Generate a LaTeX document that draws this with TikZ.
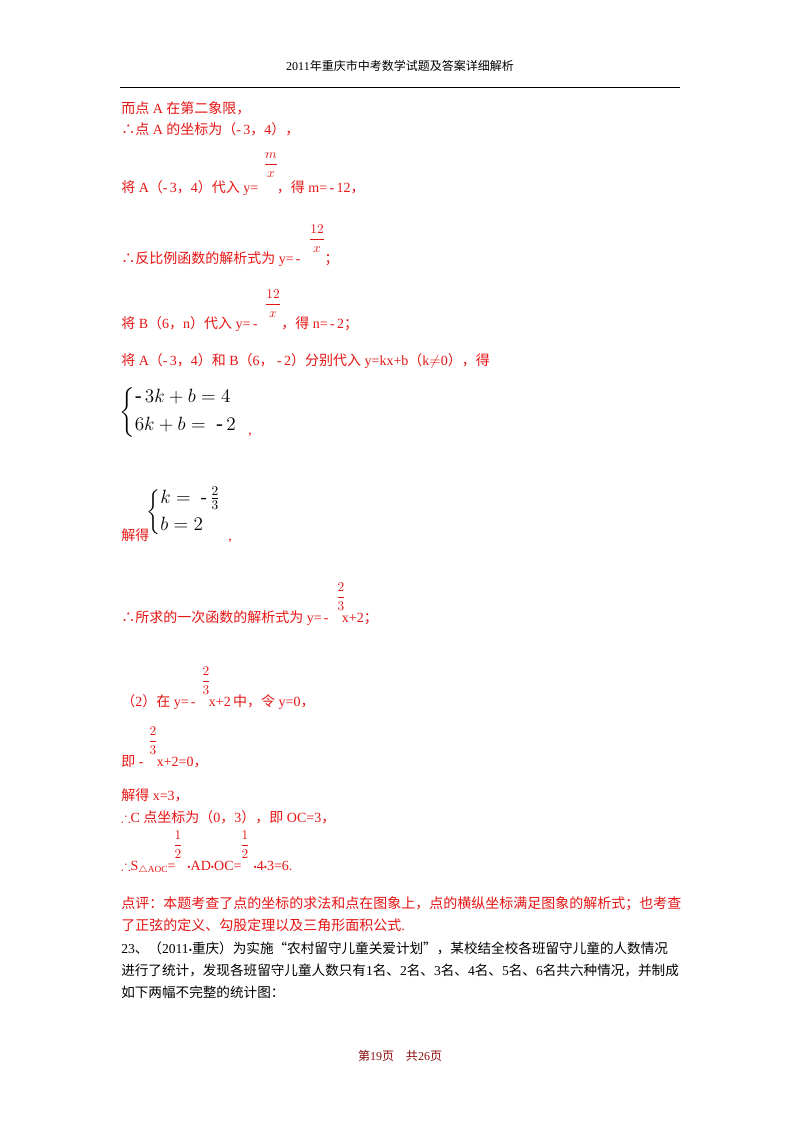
\documentclass[tikz,border=0pt]{standalone}
\usepackage{amsmath,amssymb}
\usepackage{fontspec}
\setmainfont{Liberation Serif}
\newfontfamily\cjk{Noto Sans CJK SC}
\newcommand\zh[1]{{\cjk #1}}
\newcommand\bul{{\scriptsize\textbullet}}
\definecolor{rd}{RGB}{230,20,20}
\begin{document}
\begin{tikzpicture}[x=0.75pt,y=-0.75pt,
  ln/.style={anchor=base west,inner sep=0pt,font=\fontsize{10.5}{12}\selectfont},
  red/.style={text=rd},
  fr/.style={anchor=base,inner sep=0pt,font=\fontsize{10}{11}\selectfont,text=rd},
  sys/.style={anchor=west,inner sep=0pt,font=\fontsize{15.5}{18}\selectfont}]
\useasboundingbox (0,0) rectangle (800,1132);
\fill[white] (0,0) rectangle (800,1132);
\node[anchor=base,inner sep=0pt,font=\fontsize{9}{11}\selectfont] (hd) at (400,70) {2011\zh{年重庆市中考数学试题及答案详细解析}};
\coordinate (r1) at (120,87); \coordinate (r2) at (680,87);
\draw[line width=0.6pt] (r1) -- (r2);
\node[ln,red] (l1) at (121,113) {\zh{而点} A \zh{在第二象限，}};
\node[ln,red] (l2) at (121,134) {\zh{∴点} A \zh{的坐标为（}-\,3\zh{，}4\zh{），}};
\node[ln,red] (l3) at (121,192) {\zh{将} A\zh{（}-\,3\zh{，}4\zh{）代入} y=\hspace{14pt}\zh{，得} m=\,-\,12\zh{，}};
\node[fr] (f3) at (271,168) {$\dfrac{m}{x}$};
\node[ln,red] (l4) at (121,263) {\zh{∴反比例函数的解析式为} y=\,-\hspace{18pt}\zh{；}};
\node[fr] (f4) at (317,243) {$\dfrac{12}{x}$};
\node[ln,red] (l5) at (121,328) {\zh{将} B\zh{（}6\zh{，}n\zh{）代入} y=\,-\hspace{18pt}\zh{，得} n=\,-\,2\zh{；}};
\node[fr] (f5) at (273,308) {$\dfrac{12}{x}$};
\node[ln,red] (l6) at (121,365) {\zh{将} A\zh{（}-\,3\zh{，}4\zh{）和} B\zh{（}6\zh{，}\ -\,2\zh{）分别代入} y=kx+b\zh{（}k$\neq$0\zh{），得}};
\node[sys] (s1) at (119,412) {$\left\{\begin{aligned}&\text{-}\,3k+b=4\\&6k+b=\ \text{-}\,2\end{aligned}\right.$};
\node[ln,red] (c1) at (248,434) {,};
\node[ln,red] (l7) at (121,540) {\zh{解得}};
\node[sys,font=\fontsize{14}{17}\selectfont] (s2) at (146,512) {$\left\{\begin{aligned}&k=\ \text{-}\,\tfrac{2}{3}\\&b=2\end{aligned}\right.$};
\node[ln,red] (c2) at (228,540) {,};
\node[ln,red] (l8) at (121,622) {\zh{∴所求的一次函数的解析式为} y=\,-\hspace{10pt}x+2\zh{；}};
\node[fr] (f8) at (341,601) {$\dfrac{2}{3}$};
\node[ln,red] (l9) at (121,706) {\zh{（}2\zh{）在} y=\,-\hspace{10pt}x+2\,\zh{中，令} y=0\zh{，}};
\node[fr] (f9) at (206,685) {$\dfrac{2}{3}$};
\node[ln,red] (l10) at (121,766) {\zh{即} -\hspace{10pt}x+2=0\zh{，}};
\node[fr] (f10) at (153,745) {$\dfrac{2}{3}$};
\node[ln,red] (l11) at (121,800) {\zh{解得} x=3\zh{，}};
\node[ln,red] (l12) at (121,822) {$\therefore$C \zh{点坐标为（}0\zh{，}3\zh{），即} OC=3\zh{，}};
\node[ln,red] (l13) at (121,870) {$\therefore$S\raisebox{-2pt}{\scriptsize$\triangle$AOC}=\hspace{9pt}\bul AD\bul OC=\hspace{9pt}\bul 4\bul 3=6.};
\node[fr] (f13a) at (178,849) {$\dfrac{1}{2}$};
\node[fr] (f13b) at (245,849) {$\dfrac{1}{2}$};
\node[ln,red] (l14) at (121,908) {\zh{点评：本题考查了点的坐标的求法和点在图象上，点的横纵坐标满足图象的解析式；也考查}};
\node[ln,red] (l15) at (121,930) {\zh{了正弦的定义、勾股定理以及三角形面积公式}.};
\node[ln,font=\fontsize{10.2}{12}\selectfont] (l16) at (121,953) {23\zh{、（}2011\bul\zh{重庆）为实施“农村留守儿童关爱计划”，某校结全校各班留守儿童的人数情况}};
\node[ln,font=\fontsize{10.2}{12}\selectfont] (l17) at (121,975) {\zh{进行了统计，发现各班留守儿童人数只有}1\zh{名、}2\zh{名、}3\zh{名、}4\zh{名、}5\zh{名、}6\zh{名共六种情况，并制成}};
\node[ln,font=\fontsize{10.2}{12}\selectfont] (l18) at (121,997) {\zh{如下两幅不完整的统计图：}};
\node[anchor=base,inner sep=0pt,font=\fontsize{9}{11}\selectfont,text=rd!60!black] (ft) at (400,1060) {\zh{第}19\zh{页\quad 共}26\zh{页}};
\end{tikzpicture}
\end{document}
